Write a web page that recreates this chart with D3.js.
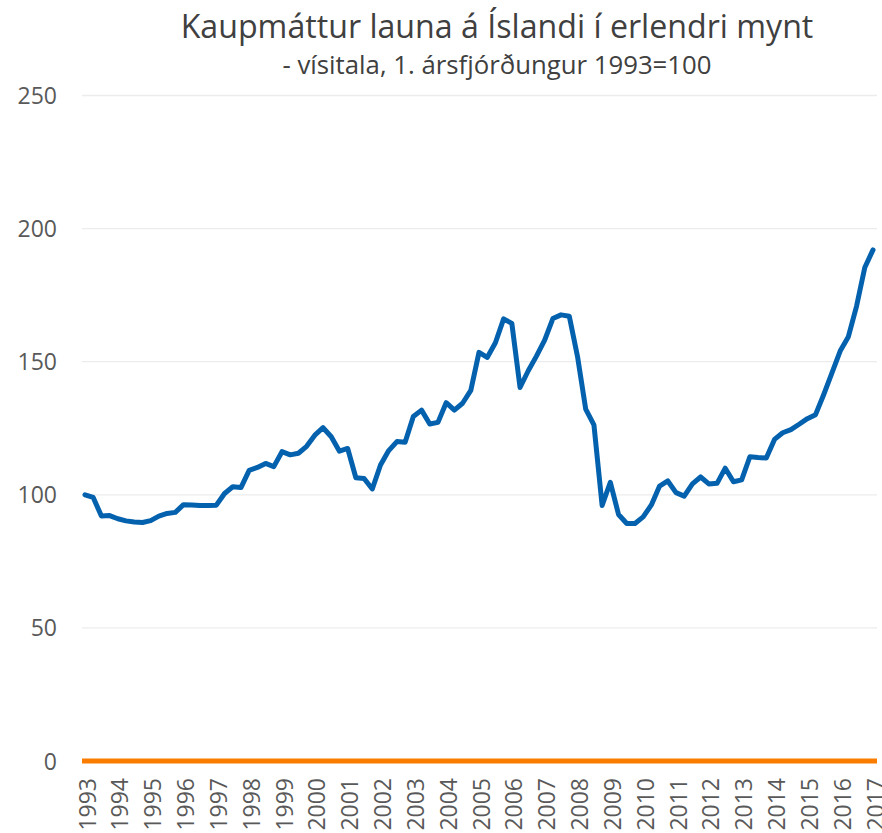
<!DOCTYPE html>
<html>
<head>
<meta charset="utf-8">
<script src="https://cdn.jsdelivr.net/npm/d3@7"></script>
<style>
  html, body { margin: 0; padding: 0; background: #fff; }
  svg { display: block; }
  text { font-family: "Open Sans", sans-serif; }
</style>
</head>
<body>
<svg id="chart" width="882" height="833"></svg>
<script>
const title = "Kaupmáttur launa á Íslandi í erlendri mynt";
const subtitle = "- vísitala, 1. ársfjórðungur 1993=100";
const years = [1993,1994,1995,1996,1997,1998,1999,2000,2001,2002,2003,2004,2005,2006,2007,2008,2009,2010,2011,2012,2013,2014,2015,2016,2017];
const quarterNames = ["1","2","3","4"];
const yTicks = [0, 50, 100, 150, 200, 250];
// Kaupmáttur launa í erlendri mynt, ársfjórðungslega 1993 F1 – 2017 F1
const values = [
  100, 99, 92, 92.2, 91, 90.2, 89.8, 89.6,
  90.3, 92, 93, 93.4, 96.3, 96.2, 96, 96,
  96.1, 100.5, 103, 102.7, 109.2, 110.3, 111.8, 110.6,
  116.2, 115, 115.6, 118.2, 122.4, 125.2, 121.8, 116.4,
  117.4, 106.4, 106.1, 102.2, 111.2, 116.6, 120, 119.7,
  129.4, 131.8, 126.6, 127.2, 134.6, 131.8, 134.4, 139.2,
  153.5, 151.6, 157.1, 166.1, 164.4, 140.3, 146.6, 152.1,
  158.1, 166.2, 167.6, 167.1, 152, 132.2, 126.3, 96,
  104.7, 92.6, 89.2, 89.2, 91.7, 96.2, 103.3, 105.2,
  100.8, 99.5, 104.1, 106.7, 104.1, 104.3, 110, 104.9,
  105.6, 114.3, 114, 113.8, 120.8, 123.3, 124.5, 126.5,
  128.6, 130.1, 137.7, 145.8, 154, 159.4, 170.9, 185.4,
  192
];
// category labels: year + quarter
const categories = years.flatMap(y => quarterNames.map(q => y + "F" + q)).slice(0, values.length);
const tickCategories = years.map(y => y + "F1");

const svg = d3.select("#chart");

const x = d3.scalePoint().domain(categories).range([85, 873]);
const y = d3.scaleLinear().domain([0, 250]).range([761, 95.5]);

// gridlines
svg.append("g")
  .selectAll("line")
  .data(yTicks.filter(t => t !== 0))
  .join("line")
  .attr("x1", 82).attr("x2", 877)
  .attr("y1", d => y(d)).attr("y2", d => y(d))
  .attr("stroke", "#ececec").attr("stroke-width", 1.3);

// y axis labels
const yAxis = d3.axisLeft(y).tickValues(yTicks).tickSize(0).tickPadding(0).tickFormat(d3.format("d"));
const gy = svg.append("g").attr("transform", "translate(57,0)").call(yAxis);
gy.select(".domain").remove();
gy.selectAll("text")
  .attr("fill", "#595959")
  .style("font-size", "23px")
  .style("font-family", "'Open Sans', sans-serif")
  .attr("dy", "0.35em");

// zero baseline (orange)
svg.append("line")
  .attr("x1", 82).attr("x2", 877)
  .attr("y1", y(0)).attr("y2", y(0))
  .attr("stroke", "#fb7d00").attr("stroke-width", 5);

// x axis labels
const xAxis = d3.axisBottom(x).tickValues(tickCategories).tickSize(0).tickPadding(0)
  .tickFormat(d => d.slice(0, 4));
const gx = svg.append("g").attr("transform", "translate(0,778)").call(xAxis);
gx.select(".domain").remove();
gx.selectAll("text")
  .attr("fill", "#595959")
  .style("font-size", "23px")
  .style("font-family", "'Open Sans', sans-serif")
  .attr("transform", "rotate(-90)")
  .attr("text-anchor", "end")
  .attr("x", 0)
  .attr("y", 2)
  .attr("dy", "0.35em");

// main line
const line = d3.line()
  .x((d, i) => x(categories[i]))
  .y(d => y(d));
svg.append("path")
  .datum(values)
  .attr("d", line)
  .attr("fill", "none")
  .attr("stroke", "#0461ae")
  .attr("stroke-width", 5)
  .attr("stroke-linejoin", "round")
  .attr("stroke-linecap", "round");

// titles
const t1 = svg.append("text")
  .attr("x", 497).attr("y", 38)
  .attr("text-anchor", "middle")
  .attr("fill", "#404040")
  .style("font-size", "30px")
  .text(title);
const w1 = t1.node().getComputedTextLength();
t1.style("font-size", (30 * 633 / w1).toFixed(2) + "px");

const t2 = svg.append("text")
  .attr("x", 497).attr("y", 74)
  .attr("text-anchor", "middle")
  .attr("fill", "#404040")
  .style("font-size", "22px")
  .text(subtitle);
const w2 = t2.node().getComputedTextLength();
t2.style("font-size", (22 * 429 / w2).toFixed(2) + "px");
</script>
</body>
</html>
